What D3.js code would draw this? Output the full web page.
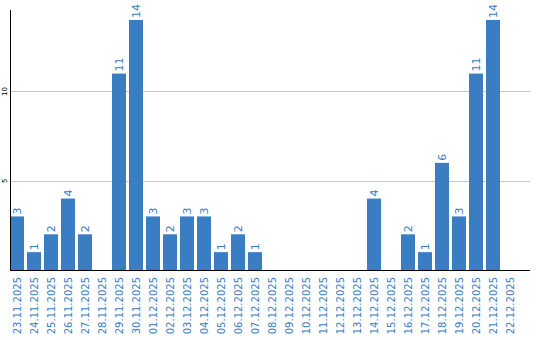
<!DOCTYPE html>
<html>
<head>
<meta charset="utf-8">
<script src="https://cdn.jsdelivr.net/npm/d3@7"></script>
<style>
  body { margin: 0; background: #fff; }
  svg { display: block; }
</style>
</head>
<body>
<div id="chart"></div>
<script>
const dates = [
    '23.11.2025', '24.11.2025', '25.11.2025', '26.11.2025', '27.11.2025', '28.11.2025',
    '29.11.2025', '30.11.2025', '01.12.2025', '02.12.2025', '03.12.2025', '04.12.2025',
    '05.12.2025', '06.12.2025', '07.12.2025', '08.12.2025', '09.12.2025', '10.12.2025',
    '11.12.2025', '12.12.2025', '13.12.2025', '14.12.2025', '15.12.2025', '16.12.2025',
    '17.12.2025', '18.12.2025', '19.12.2025', '20.12.2025', '21.12.2025', '22.12.2025'
]
const counts = [3, 1, 2, 4, 2, 0, 11, 14, 3, 2, 3, 3, 1, 2, 1, 0, 0, 0, 0, 0, 0, 4, 0, 2, 1, 6, 3, 11, 14, 0]
const yTicks = [5, 10]
const yMax = 14.56

const WIDTH = 540
const HEIGHT = 340
const LEFT = 10
const RIGHT = 530
const TOP = 10
const BOTTOM = 270
const BLUE = '#3b7dc3'

const svg = d3.select('#chart')
    .append('svg')
    .attr('width', WIDTH)
    .attr('height', HEIGHT)

const x = d3.scaleBand()
    .domain(dates)
    .range([LEFT, LEFT + 17 * dates.length])
    .paddingInner(3 / 17)
    .paddingOuter(3 / 34)
    .align(0)

const y = d3.scaleLinear()
    .domain([0, yMax])
    .range([BOTTOM, TOP])

// grid lines
svg.selectAll('.grid')
    .data(yTicks)
    .enter()
    .append('line')
    .attr('x1', LEFT)
    .attr('x2', RIGHT)
    .attr('y1', d => Math.round(y(d)) + 0.5)
    .attr('y2', d => Math.round(y(d)) + 0.5)
    .attr('stroke', '#c8c8c8')

// y tick labels, rotated
svg.selectAll('.ytick')
    .data(yTicks)
    .enter()
    .append('text')
    .attr('transform', d => `translate(7, ${y(d)}) rotate(-90)`)
    .attr('text-anchor', 'middle')
    .attr('font-family', 'DejaVu Sans, sans-serif')
    .attr('font-size', '7px')
    .attr('fill', '#000')
    .text(d => d)

// bars
const data = dates.map((d, i) => ({ date: d, value: counts[i] }))
svg.selectAll('.bar')
    .data(data)
    .enter()
    .append('rect')
    .attr('x', d => x(d.date))
    .attr('y', d => y(d.value))
    .attr('width', x.bandwidth())
    .attr('height', d => BOTTOM - y(d.value))
    .attr('fill', BLUE)

// value labels
svg.selectAll('.val')
    .data(data.filter(d => d.value > 0))
    .enter()
    .append('text')
    .attr('transform', d => `translate(${x(d.date) + x.bandwidth() / 2 + 4}, ${y(d.value) - 2}) rotate(-90)`)
    .attr('text-anchor', 'start')
    .attr('font-family', 'DejaVu Sans, sans-serif')
    .attr('font-size', '11px')
    .attr('fill', BLUE)
    .text(d => d.value)

// axes
svg.append('line')
    .attr('x1', LEFT + 0.5).attr('x2', LEFT + 0.5)
    .attr('y1', TOP).attr('y2', BOTTOM + 1)
    .attr('stroke', '#000')
svg.append('line')
    .attr('x1', LEFT).attr('x2', RIGHT)
    .attr('y1', BOTTOM + 0.5).attr('y2', BOTTOM + 0.5)
    .attr('stroke', '#000')

// category labels
svg.selectAll('.xlab')
    .data(dates)
    .enter()
    .append('text')
    .attr('transform', d => `translate(${x(d) + x.bandwidth() / 2 + 4}, 277) rotate(-90)`)
    .attr('text-anchor', 'end')
    .attr('font-family', 'DejaVu Sans, sans-serif')
    .attr('font-size', '10px')
    .attr('fill', BLUE)
    .text(d => d)
</script>
</body>
</html>
